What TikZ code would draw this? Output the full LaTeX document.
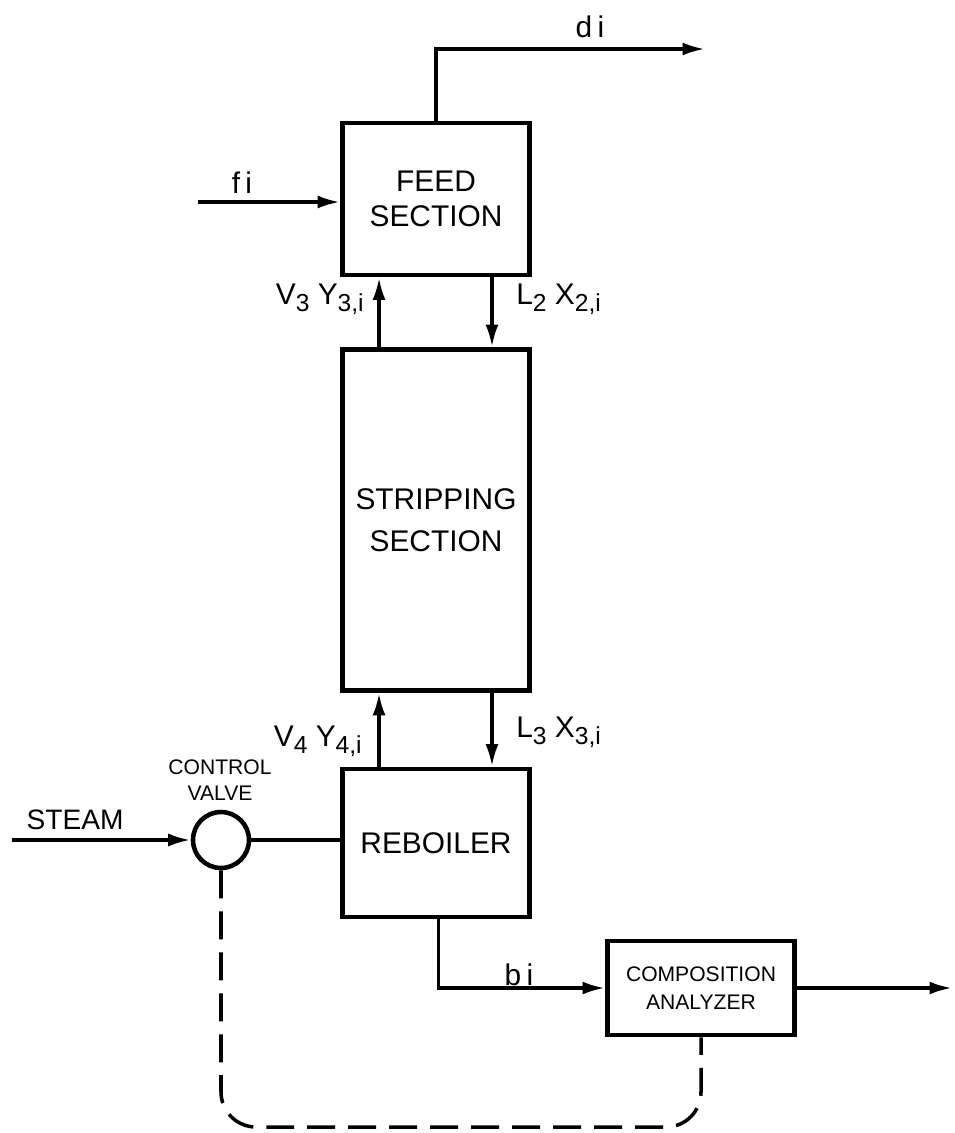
\documentclass[tikz,border=0pt]{standalone}
\usepackage{fontspec}
\setmainfont{Liberation Sans}
\usetikzlibrary{arrows.meta,positioning}

\newcommand{\lsub}[1]{\raisebox{-4pt}{\fontsize{14}{14}\selectfont #1}}

\begin{document}
\begin{tikzpicture}[x=0.02cm,y=-0.02cm,
    blk/.style={draw,line width=2.8pt,align=center,inner sep=0pt,font=\fontsize{17}{20}\selectfont},
    flow/.style={line width=2pt,-{Latex[length=0.45cm,width=0.26cm]}},
    ctrl/.style={line width=2pt,dash pattern=on 0.56cm off 0.26cm,rounded corners=0.7cm},
    lbl/.style={inner sep=0pt,font=\fontsize{17}{20}\selectfont}]
  \useasboundingbox (0,0) rectangle (955,1133);
  % column sections
  \node[blk,minimum width=3.74cm,minimum height=3.04cm] (feed) at (436,199) {FEED\\SECTION};
  \node[blk,minimum width=3.74cm,minimum height=6.82cm,font=\fontsize{17}{24}\selectfont] (strip) at (436,520) {STRIPPING\\SECTION};
  \node[blk,minimum width=3.74cm,minimum height=2.96cm] (reb) at (436,843) {REBOILER};
  \node[blk,minimum width=3.74cm,minimum height=1.88cm,font=\fontsize{12}{16}\selectfont] (anal) at (701,988) {COMPOSITION\\ANALYZER};
  \node[draw,circle,line width=2.6pt,minimum size=1.12cm,inner sep=0pt] (valve) at (221,840) {};
  \node[align=center,inner sep=0pt,font=\fontsize{12}{15}\selectfont] (vlbl) at (220,780) {CONTROL\\VALVE};
  % free ends
  \coordinate (fin) at (198,202);
  \coordinate (dout) at (705,49);
  \coordinate (steamin) at (12,840);
  \coordinate (bout) at (952,988);
  \coordinate (dbot) at (0,1127);
  % streams
  \draw[flow] (fin) -- (fin -| feed.west);
  \draw[flow] (feed.north) |- (dout);
  \draw[flow] ([xshift=-1.14cm]strip.north) -- ([xshift=-1.14cm]feed.south);
  \draw[flow] ([xshift=1.12cm]feed.south) -- ([xshift=1.12cm]strip.north);
  \draw[flow] ([xshift=-1.14cm]reb.north) -- ([xshift=-1.14cm]strip.south);
  \draw[flow] ([xshift=1.12cm]strip.south) -- ([xshift=1.12cm]reb.north);
  \draw[flow] (steamin) -- (valve.west);
  \draw[line width=2pt] (valve.east) -- (valve.east -| reb.west);
  \draw[flow] ([xshift=0.05cm]reb.south) |- (anal.west);
  \draw[flow] (anal.east) -- (bout);
  \draw[ctrl] (valve.south) -- (valve.south |- dbot) -- (anal.south |- dbot) -- (anal.south);
  % labels
  \node[lbl,anchor=base] (fi) at (242,193) {f\kern3pt i};
  \node[lbl,anchor=base] (di) at (590,37) {d\kern3pt i};
  \node[lbl,anchor=base] (bi) at (519,985) {b\kern3pt i};
  \node[lbl,anchor=base,font=\fontsize{16}{18}\selectfont] (steam) at (75,829) {STEAM};
  \node[lbl,anchor=base east] (v3) at (364,304) {V\lsub{3} Y\lsub{3,i}};
  \node[lbl,anchor=base west] (l2) at (516,304) {L\lsub{2} X\lsub{2,i}};
  \node[lbl,anchor=base east] (v4) at (362,746) {V\lsub{4} Y\lsub{4,i}};
  \node[lbl,anchor=base west] (l3) at (516,737) {L\lsub{3} X\lsub{3,i}};
\end{tikzpicture}
\end{document}
